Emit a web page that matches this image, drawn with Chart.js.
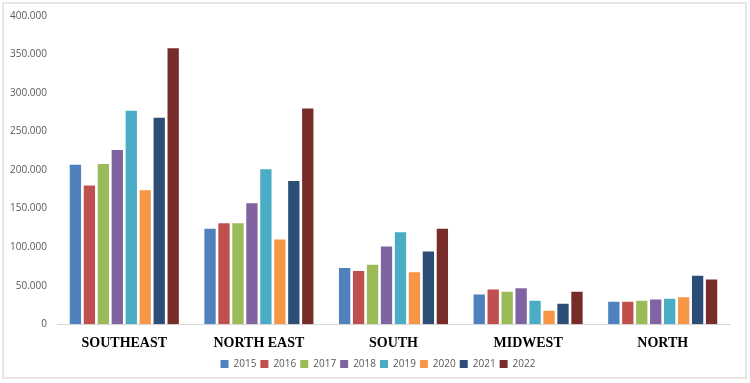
<!DOCTYPE html>
<html>
<head>
<meta charset="utf-8">
<script src="https://cdn.jsdelivr.net/npm/chart.js@4"></script>
<style>
    body { margin: 0; background: #fff; }
    #wrap { position: relative; width: 750px; height: 383px; }
    #frame { position: absolute; left: 2px; top: 2px; width: 741px; height: 373px; border: 2px solid #e6e6e6; pointer-events: none; }
</style>
</head>
<body>
<div id="wrap">
    <canvas id="regions-chart" width="750" height="383"></canvas>
    <div id="frame"></div>
</div>
<script>
const regions = ['SOUTHEAST', 'NORTH EAST', 'SOUTH', 'MIDWEST', 'NORTH'];
const years = ['2015', '2016', '2017', '2018', '2019', '2020', '2021', '2022'];

// values per year, in region order
const y2015 = [207000, 124000, 73000, 38500, 29000];
const y2016 = [180000, 131000, 69000, 45000, 29000];
const y2017 = [208000, 131000, 77000, 42000, 30500];
const y2018 = [226000, 157000, 101000, 46500, 32000];
const y2019 = [277000, 201000, 119500, 30500, 33000];
const y2020 = [174000, 110000, 67500, 17500, 35000];
const y2021 = [268000, 186000, 94500, 26500, 63000];
const y2022 = [358000, 280000, 124000, 42000, 58000];

const colors = ['#4F81BD', '#C0504D', '#9BBB59', '#8064A2', '#4BACC6', '#F79646', '#2C4D75', '#772C2A'];
const seriesValues = [y2015, y2016, y2017, y2018, y2019, y2020, y2021, y2022];

const datasets = years.map((year, i) => ({
    label: year,
    data: seriesValues[i],
    backgroundColor: colors[i],
    borderWidth: 0,
    categoryPercentage: 0.83,
    barPercentage: 0.81,
}));

// nudge the legend a little to the right, like the original
const legendShift = {
    id: 'legendShift',
    afterLayout(chart) {
        if (chart.legend) {
            chart.legend.left += 13;
            chart.legend.right += 13;
        }
    },
};

const ctx = document.getElementById('regions-chart').getContext('2d');
new Chart(ctx, {
    type: 'bar',
    data: { labels: regions, datasets: datasets },
    plugins: [legendShift],
    options: {
        responsive: false,
        animation: false,
        layout: { padding: { top: 11, right: 20, bottom: 4, left: 0 } },
        plugins: {
            tooltip: { enabled: false },
            legend: {
                position: 'bottom',
                labels: {
                    boxWidth: 8,
                    boxHeight: 8,
                    padding: 4,
                    color: '#595959',
                    font: { family: 'Open Sans', size: 10 },
                },
            },
        },
        scales: {
            x: {
                grid: { display: false },
                border: { color: '#d9d9d9' },
                ticks: {
                    color: '#000',
                    padding: 3,
                    font: { family: 'Liberation Serif', size: 14, weight: 'bold' },
                },
            },
            y: {
                min: 0,
                max: 400000,
                afterFit: scale => { scale.width = 57; },
                grid: { display: false, drawTicks: false },
                border: { display: false },
                ticks: {
                    stepSize: 50000,
                    padding: 10,
                    color: '#595959',
                    font: { family: 'Open Sans', size: 10 },
                    callback: v => v.toLocaleString('de-DE'),
                },
            },
        },
    },
});
</script>
</body>
</html>
